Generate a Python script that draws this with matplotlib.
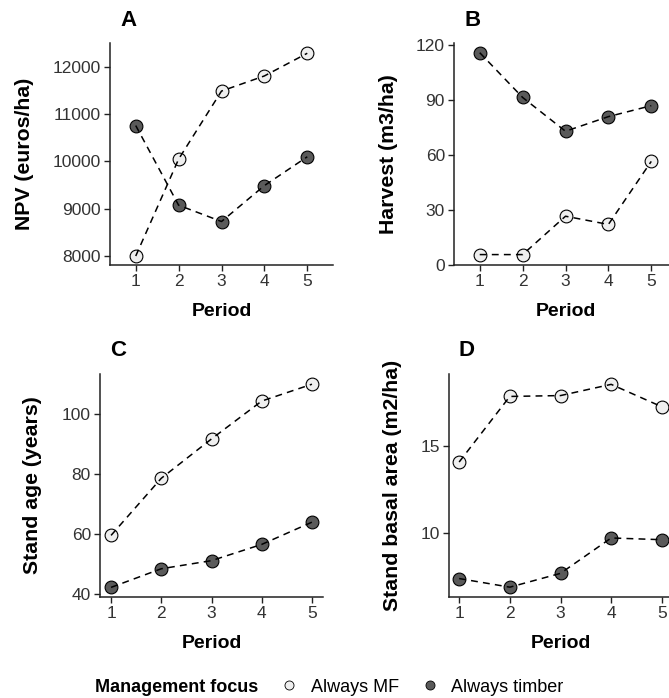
import matplotlib.pyplot as plt
from matplotlib.lines import Line2D

plt.rcParams['font.family'] = ['Liberation Sans', 'DejaVu Sans']

periods = [1, 2, 3, 4, 5]
series = ['Always MF', 'Always timber']

npv_mf = [8000, 10050, 11490, 11810, 12290]
npv_timber = [10760, 9075, 8730, 9490, 10100]

harvest_mf = [5.5, 5.5, 26.5, 22, 56.5]
harvest_timber = [116, 91.5, 73, 81, 87]

age_mf = [59.6, 78.6, 91.7, 104.3, 109.9]
age_timber = [42.3, 48.5, 51.2, 56.6, 64]

basal_mf = [14.1, 17.9, 17.95, 18.6, 17.3]
basal_timber = [7.35, 6.85, 7.65, 9.7, 9.6]

W, H = 669, 698
fill = {'Always MF': '#efefef', 'Always timber': '#5a5a5a'}
ink = '#333333'


def px_axes(fig, left, top, right, bottom):
    return fig.add_axes([left / W, 1 - bottom / H, (right - left) / W, (bottom - top) / H])


def draw_panel(ax, mf, timber, xlim, ylim, yticks, ylabel, letter, ylab_x):
    for name, vals in zip(series, [mf, timber]):
        ax.plot(periods, vals, ls='none', marker='o', ms=9.2,
                mfc=fill[name], mec='black', mew=0.8, zorder=2)
        ax.plot(periods, vals, color='black', lw=1.1, dashes=(4.5, 3.4), zorder=3)
    ax.set_xlim(*xlim)
    ax.set_ylim(*ylim)
    ax.set_xticks(periods)
    ax.set_yticks(yticks)
    for s in ['top', 'right']:
        ax.spines[s].set_visible(False)
    for s in ['left', 'bottom']:
        ax.spines[s].set_linewidth(1.1)
        ax.spines[s].set_color('#222222')
    ax.tick_params(length=4, width=1.0, color='#222222', labelcolor=ink,
                   labelsize=12.5, pad=2.5)
    ax.set_xlabel('Period', fontsize=14, fontweight='bold', labelpad=10)
    bb = ax.get_position()
    fig = ax.figure
    fig.text(ylab_x / W, bb.y0 + bb.height / 2, ylabel, rotation=90,
             ha='center', va='center', fontsize=15.3, fontweight='bold')
    fig.text(bb.x0 + 10 / W, bb.y1 + 23 / H, letter, ha='left', va='center',
             fontsize=16, fontweight='bold')


fig = plt.figure(figsize=(W / 100, H / 100), dpi=100)

ax_a = px_axes(fig, 110, 43, 333, 265)
draw_panel(ax_a, npv_mf, npv_timber, (0.4, 5.6), (7810, 12507),
           [8000, 9000, 10000, 11000, 12000], 'NPV (euros/ha)', 'A', 25)

ax_b = px_axes(fig, 454, 43, 677, 265)
draw_panel(ax_b, harvest_mf, harvest_timber, (0.4, 5.6), (-0.2, 121.3),
           [0, 30, 60, 90, 120], 'Harvest (m3/ha)', 'B', 388)

ax_c = px_axes(fig, 100, 374, 323, 597)
draw_panel(ax_c, age_mf, age_timber, (0.78, 5.22), (39.1, 113.3),
           [40, 60, 80, 100], 'Stand age (years)', 'C', 33)

ax_d = px_axes(fig, 449, 374, 672, 597)
draw_panel(ax_d, basal_mf, basal_timber, (0.8, 5.2), (6.28, 19.2),
           [10, 15], 'Stand basal area (m2/ha)', 'D', 393)

# legend row at the bottom
fig.text(95 / W, 1 - 687 / H, 'Management focus', ha='left', va='center',
         fontsize=13, fontweight='bold')
handles = [Line2D([], [], ls='none', marker='o', ms=6.5, mfc=fill[s],
                  mec='black', mew=0.6) for s in series]
fig.legend(handles, series, loc='center left', bbox_to_anchor=(280 / W, 1 - 687 / H),
           ncol=2, frameon=False, fontsize=13, handlelength=1.0, handletextpad=0.7,
           columnspacing=1.2, borderaxespad=0, borderpad=0)

fig.savefig('out.png', dpi=100)
